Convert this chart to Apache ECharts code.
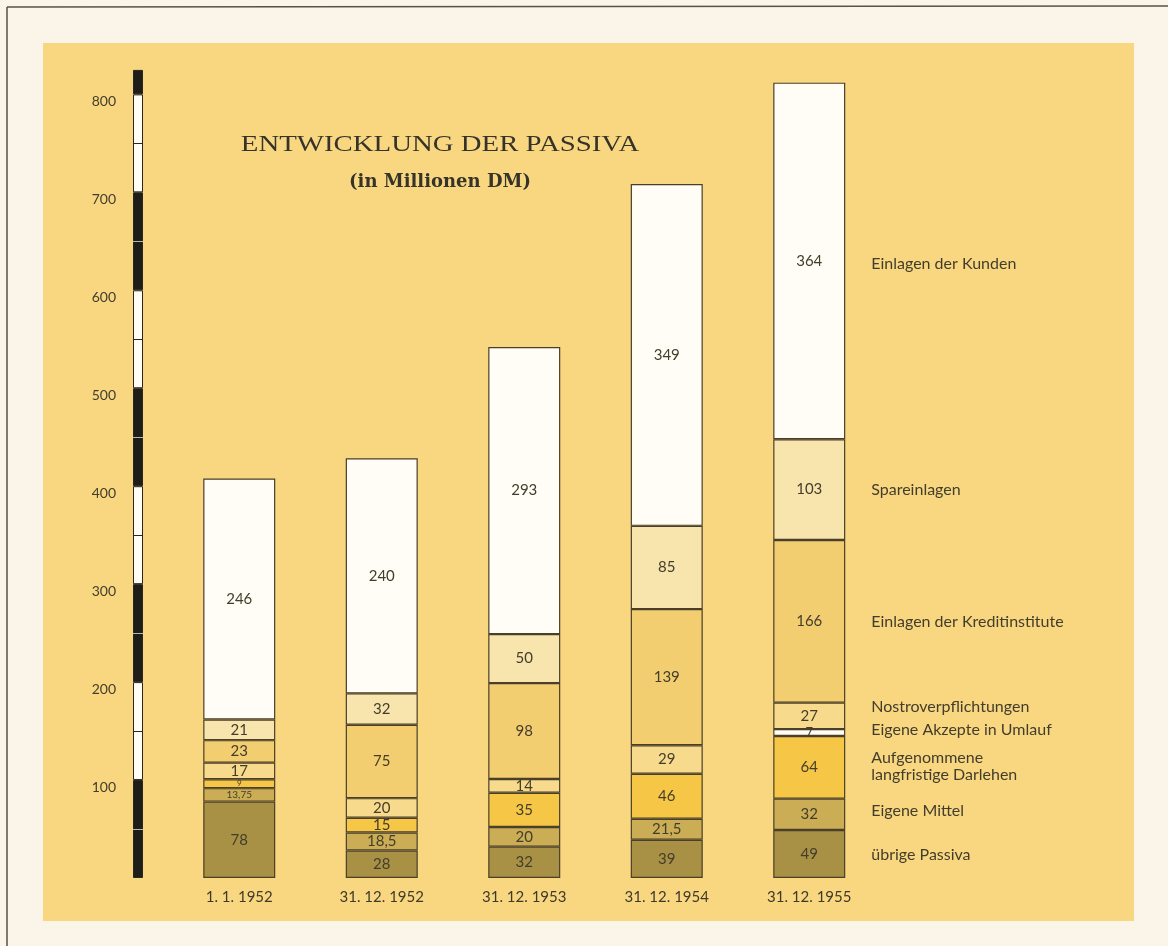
<!DOCTYPE html>
<html>
<head>
<meta charset="utf-8">
<script src="https://cdn.jsdelivr.net/npm/echarts@6/dist/echarts.min.js"></script>
<style>
html,body{margin:0;padding:0;background:#fbf4e8;}
#chart{width:1168px;height:946px;}
</style>
</head>
<body>
<div id="chart"></div>
<script>
// ---- data ----
const categories = ['1. 1. 1952', '31. 12. 1952', '31. 12. 1953', '31. 12. 1954', '31. 12. 1955'];
const seriesNames = [
  'übrige Passiva',
  'Eigene Mittel',
  'Aufgenommene\nlangfristige Darlehen',
  'Eigene Akzepte in Umlauf',
  'Nostroverpflichtungen',
  'Einlagen der Kreditinstitute',
  'Spareinlagen',
  'Einlagen der Kunden'
];
const uebrigePassiva = [78, 28, 32, 39, 49];
const eigeneMittel = [13.75, 18.5, 20, 21.5, 32];
const aufgenommeneDarlehen = [9, 15, 35, 46, 64];
const eigeneAkzepte = [null, null, null, null, 7];
const nostroverpflichtungen = [17, 20, 14, 29, 27];
const einlagenKreditinstitute = [23, 75, 98, 139, 166];
const spareinlagen = [21, 32, 50, 85, 103];
const einlagenKunden = [246, 240, 293, 349, 364];
const yTickLabels = ['100', '200', '300', '400', '500', '600', '700', '800'];
const axisStripe = [100, 100, 100, 100, 100, 100, 100, 100, 25];
const stripeMidTicks = [50, 150, 250, 350, 450, 550, 650, 750];

// ---- styling ----
const seriesValues = [uebrigePassiva, eigeneMittel, aufgenommeneDarlehen, eigeneAkzepte,
  nostroverpflichtungen, einlagenKreditinstitute, spareinlagen, einlagenKunden];
const colors = ['#a89144', '#cbad55', '#f6c746', '#fffdf4', '#f8da8c', '#f3ce71', '#f8e5ad', '#fffdf6'];
const nameOffsets = [[0, 1], [0, -3], [0, -1], [0, -3], [0, -9], [0, 0], [0, 0], [0, 3]];
const textColor = '#433d2c';
const numFont = 'Lato, "Noto Sans", sans-serif';
const border = '#4a3f29';
const Y_MAX = 830;

function fmt(v) { return String(v).replace('.', ','); }
function fontFor(v, si) {
  if (si === 3) return 13;
  if (v < 10) return 8;
  if (v < 14) return 10;
  return 15;
}

const series = [];
seriesValues.forEach((vals, si) => {
  series.push({
    name: seriesNames[si],
    type: 'bar',
    stack: 'passiva',
    xAxisIndex: 0, yAxisIndex: 0,
    barWidth: 72,
    barGap: '-100%',
    itemStyle: { color: colors[si], borderColor: border, borderWidth: 1.2 },
    label: {
      show: true, position: 'inside', color: textColor, fontFamily: numFont,
      formatter: p => fmt(p.value)
    },
    data: vals.map(v => v == null ? null : ({ value: v, label: { fontSize: fontFor(v, si) } }))
  });
});
// name labels next to the last bar
const lastIdx = categories.length - 1;
seriesValues.forEach((vals, si) => {
  series.push({
    name: seriesNames[si] + ' (Beschriftung)',
    type: 'bar',
    stack: 'names',
    xAxisIndex: 0, yAxisIndex: 0,
    barWidth: 72,
    barGap: '-100%',
    silent: true,
    itemStyle: { color: 'rgba(0,0,0,0)' },
    label: {
      show: true, position: 'right', distance: 26, offset: nameOffsets[si],
      color: textColor, fontFamily: numFont, fontSize: 16, lineHeight: 17,
      formatter: () => seriesNames[si]
    },
    data: vals.map((v, i) => i === lastIdx ? v : null)
  });
});
// black/white scale stripe
axisStripe.forEach((v, k) => {
  const s = {
    type: 'bar',
    stack: 'stripe',
    xAxisIndex: 1, yAxisIndex: 1,
    barWidth: 10,
    silent: true,
    itemStyle: { color: k % 2 === 0 ? '#1f1d1a' : '#fffdf6', borderColor: '#2a2620', borderWidth: 1 },
    data: [v]
  };
  if (k === 0) {
    s.markLine = {
      silent: true, symbol: 'none', label: { show: false },
      data: stripeMidTicks.map(t => ({
        yAxis: t,
        lineStyle: { type: 'solid', width: 1, color: Math.floor(t / 100) % 2 === 0 ? '#bdb8a8' : '#2a2620' }
      }))
    };
  }
  series.push(s);
});

const chart = echarts.init(document.getElementById('chart'), null, { renderer: 'canvas' });
chart.setOption({
  backgroundColor: 'transparent',
  animation: false,
  graphic: [
    { type: 'rect', z: -100, shape: { x: 43, y: 43, width: 1091, height: 878 }, style: { fill: '#f8d780' } },
    { type: 'line', z: -100, shape: { x1: 7, y1: 7, x2: 1168, y2: 6 }, style: { stroke: '#55524a', lineWidth: 1.5 } },
    { type: 'line', z: -100, shape: { x1: 7, y1: 7, x2: 7, y2: 946 }, style: { stroke: '#55524a', lineWidth: 1.5 } },
    { type: 'text', x: 440, y: 145, scaleX: 1.2, style: { text: 'ENTWICKLUNG DER PASSIVA', fill: '#36342a',
      font: '24px "Liberation Serif", "DejaVu Serif", serif', align: 'center', verticalAlign: 'middle' } },
    { type: 'text', x: 440, y: 182, style: { text: '(in Millionen DM)', fill: '#36342a',
      font: 'bold 18px "DejaVu Serif", "Liberation Serif", serif', align: 'center', verticalAlign: 'middle' } }
  ],
  grid: [
    { left: 168, width: 712.5, top: 65, bottom: 68 },
    { left: 133, width: 10, top: 65, bottom: 68 }
  ],
  xAxis: [
    { type: 'category', gridIndex: 0, data: categories,
      axisLine: { show: false }, axisTick: { show: false },
      axisLabel: { color: '#3f3a28', fontFamily: numFont, fontSize: 15, margin: 12 } },
    { type: 'category', gridIndex: 1, data: ['Skala'], show: false }
  ],
  yAxis: [
    { type: 'value', gridIndex: 0, min: 0, max: Y_MAX, interval: 100, show: false, splitLine: { show: false } },
    { type: 'value', gridIndex: 1, min: 0, max: Y_MAX, interval: 100,
      axisLine: { show: false }, axisTick: { show: false }, splitLine: { show: false },
      axisLabel: {
        show: true, margin: 17, color: textColor, fontFamily: numFont, fontSize: 14,
        verticalAlign: 'top', showMaxLabel: false,
        formatter: v => { const i = yTickLabels.indexOf(String(v)); return i >= 0 ? yTickLabels[i] : ''; }
      } }
  ],
  series: series
});
</script>
</body>
</html>
